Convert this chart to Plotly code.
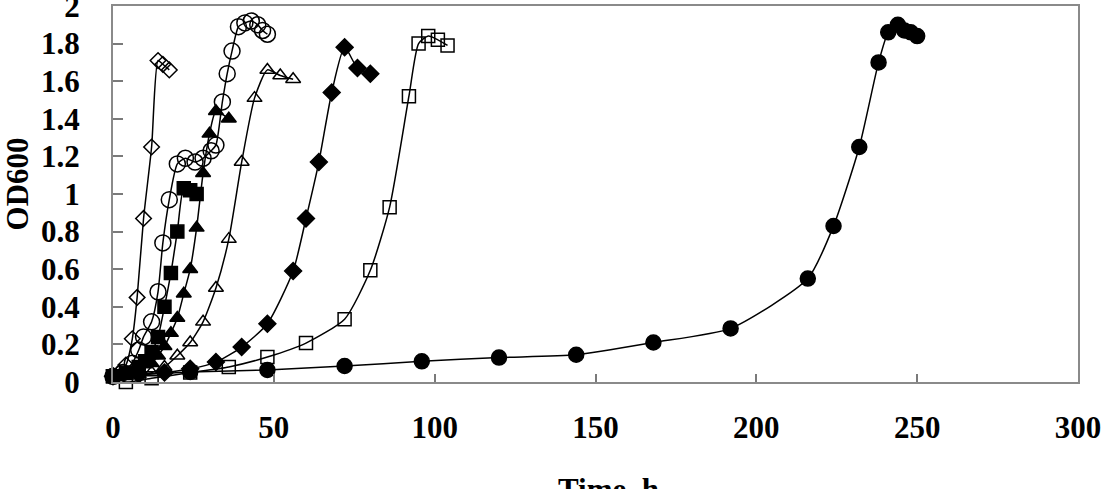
import plotly.graph_objects as go

# Open diamonds
t_odiam = [0, 2, 4, 6, 7.5, 9.5, 12, 14, 15.5, 17.5]
od_odiam = [0.03, 0.05, 0.09, 0.23, 0.45, 0.87, 1.25, 1.71, 1.69, 1.66]

# Open circles
t_ocirc = [0, 3, 6, 8, 9.5, 12, 14, 15.5, 17.5, 20, 22.5, 25.5, 28, 30.5, 32, 34, 35.5, 37, 39, 41, 43, 45, 46.5, 48]
od_ocirc = [0.03, 0.05, 0.10, 0.17, 0.24, 0.32, 0.48, 0.74, 0.97, 1.16, 1.19, 1.17, 1.19, 1.23, 1.26,
            1.49, 1.64, 1.76, 1.89, 1.91, 1.92, 1.90, 1.87, 1.85]

# Filled squares
t_fsq = [0, 4, 8, 10, 12, 14, 16, 18, 20, 22, 24, 26]
od_fsq = [0.03, 0.05, 0.08, 0.11, 0.16, 0.24, 0.40, 0.58, 0.80, 1.03, 1.02, 1.00]

# Filled triangles
t_ftri = [0, 4, 8, 12, 14, 16, 18, 20, 22, 24, 26, 28, 30, 32, 36]
od_ftri = [0.03, 0.04, 0.06, 0.10, 0.14, 0.19, 0.26, 0.34, 0.47, 0.60, 0.82, 1.11, 1.32, 1.44, 1.40]

# Open triangles
t_otri = [0, 4, 8, 12, 16, 20, 24, 28, 32, 36, 40, 44, 48, 52, 56]
od_otri = [0.03, 0.03, 0.04, 0.05, 0.08, 0.14, 0.21, 0.32, 0.50, 0.76, 1.17, 1.51, 1.66, 1.63, 1.61]

# Filled diamonds
t_fdiam = [0, 8, 16, 24, 32, 40, 48, 56, 60, 64, 68, 72, 76, 80]
od_fdiam = [0.03, 0.04, 0.05, 0.07, 0.106, 0.186, 0.31, 0.59, 0.87, 1.17, 1.54, 1.78, 1.67, 1.64]

# Open squares
t_osq = [0, 4, 12, 24, 36, 48, 60, 72, 80, 86, 92, 95, 98, 101, 104]
od_osq = [0.03, 0.0, 0.02, 0.05, 0.08, 0.133, 0.207, 0.334, 0.594, 0.93, 1.52, 1.80, 1.84, 1.82, 1.79]

# Filled circles
t_fcirc = [0, 24, 48, 72, 96, 120, 144, 168, 192, 216, 224, 232, 238, 241, 244, 246, 248, 250]
od_fcirc = [0.03, 0.053, 0.064, 0.085, 0.11, 0.13, 0.145, 0.21, 0.285, 0.55, 0.83, 1.25, 1.70, 1.86,
            1.90, 1.87, 1.86, 1.84]

x_ticks = [0, 50, 100, 150, 200, 250, 300]
y_ticks = [0, 0.2, 0.4, 0.6, 0.8, 1, 1.2, 1.4, 1.6, 1.8, 2]
y_ticktext = ["0", "0.2", "0.4", "0.6", "0.8", "1", "1.2", "1.4", "1.6", "1.8", "2"]

series = [
    (t_fcirc, od_fcirc, "circle", 15),
    (t_osq, od_osq, "square-open", 13),
    (t_fdiam, od_fdiam, "diamond", 13),
    (t_otri, od_otri, "triangle-up-open", 13),
    (t_ftri, od_ftri, "triangle-up", 13),
    (t_fsq, od_fsq, "square", 13),
    (t_ocirc, od_ocirc, "circle-open", 16),
    (t_odiam, od_odiam, "diamond-open", 12),
]

fig = go.Figure()
for xs, ys, sym, sz in series:
    fig.add_trace(go.Scatter(
        x=xs, y=ys, mode="lines+markers",
        line=dict(color="black", width=1.5, shape="spline", smoothing=0.6),
        marker=dict(symbol=sym, size=sz, color="black",
                    line=dict(color="black", width=1.5)),
        cliponaxis=False, showlegend=False,
    ))

axis_font = dict(family="Liberation Serif", size=31, color="black", weight="bold")

fig.update_xaxes(
    range=[0, 300], tickvals=x_ticks,
    ticks="inside", ticklen=8, tickwidth=1.5, tickcolor="#7a7a7a",
    showline=True, linecolor="#8a8a8a", linewidth=2, mirror=True,
    showgrid=False, zeroline=False, tickfont=axis_font, ticklabelstandoff=17,
    ticklabeloverflow="allow", automargin=False,
)
fig.update_yaxes(
    range=[0, 2], tickvals=y_ticks, ticktext=y_ticktext,
    ticks="inside", ticklen=10, tickwidth=1.5, tickcolor="#7a7a7a",
    showline=True, linecolor="#8a8a8a", linewidth=2, mirror=True,
    showgrid=False, zeroline=False, tickfont=axis_font, ticklabelstandoff=25,
    ticklabeloverflow="allow", automargin=False,
)

fig.update_layout(
    width=1103, height=489,
    margin=dict(l=113, r=25, t=6, b=107),
    paper_bgcolor="white", plot_bgcolor="white",
    annotations=[
        dict(text="Time, h", xref="paper", yref="paper", x=0.513, y=-0.233,
             xanchor="center", yanchor="top", showarrow=False, font=axis_font),
        dict(text="OD600", xref="paper", yref="paper", x=-0.0995, y=0.528,
             xanchor="center", yanchor="middle", textangle=-90, showarrow=False,
             font=axis_font),
    ],
)

fig.write_html("out.html")
